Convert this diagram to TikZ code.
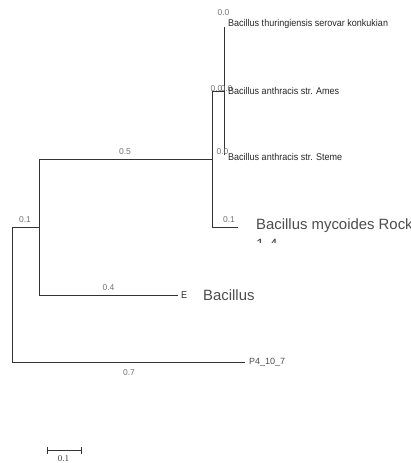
\documentclass[tikz,border=0pt]{standalone}
\usepackage{fontspec}
\setmainfont{Liberation Sans}
\newfontfamily\serifnum{Liberation Serif}
\begin{document}
\begin{tikzpicture}[x=1pt,y=-1pt,
  edge/.style={draw=black!80, line width=0.9pt},
  blab/.style={anchor=base, inner sep=0pt, text=black!55, font=\fontsize{8.5}{8.5}\selectfont},
  leaf/.style={anchor=base west, inner sep=0pt, text=black!85, xscale=0.92, transform shape, font=\fontsize{9.8}{9.8}\selectfont},
  bigleaf/.style={anchor=base west, inner sep=0pt, text=black!70, font=\fontsize{14.9}{14.9}\selectfont},
  p4leaf/.style={anchor=base west, inner sep=0pt, text=black!70, font=\fontsize{9}{9}\selectfont}]
\useasboundingbox (0,0) rectangle (410,463);
\clip (0,0) rectangle (410,463);
% tree junctions and leaves
\coordinate (R) at (12,294.5);
\coordinate (N1) at (39,227);
\coordinate (N2) at (212,159);
\coordinate (N3) at (224,91);
\coordinate (TH) at (224,27);
\coordinate (AM) at (224,91);
\coordinate (ST) at (224,155);
\coordinate (MY) at (238,227);
\coordinate (B1) at (178,295);
\coordinate (P4) at (245,362);
% edges
\draw[edge] (R) |- (N1);
\draw[edge] (R) |- (P4);
\draw[edge] (N1) |- (N2);
\draw[edge] (N1) |- (B1);
\draw[edge] (N2) |- (N3);
\draw[edge] (N2) |- (MY);
\draw[edge] (N3) |- (TH);
\draw[edge] (N3) |- (ST);
% branch labels
\node[blab] (l1) at (25,222) {0.1};
\node[blab] (l2) at (125,154.5) {0.5};
\node[blab] (l3) at (108.5,290) {0.4};
\node[blab] (l4) at (129,375) {0.7};
\node[blab] (l5) at (229,222) {0.1};
\node[blab] (l6) at (223.5,15.3) {0.0};
\node[blab] (l7) at (216.5,91) {0.0};
\node[blab] (l8) at (226.5,91) {0.0};
\node[blab] (l9) at (222.5,154) {0.0};
% leaf labels
\node[leaf] (tTH) at (228,26) {Bacillus thuringiensis serovar konkukian};
\node[leaf] (tAM) at (228,94) {Bacillus anthracis str. Ames};
\node[leaf] (tST) at (228,160.5) {Bacillus anthracis str. Steme};
\node[bigleaf] (tMY) at (256,229) {Bacillus mycoides Rock};
\begin{scope}
\clip (250,230) rectangle (300,242);
\node[bigleaf] (tMY2) at (256,249) {1-4};
\end{scope}
\node[leaf] (tE) at (181,298) {E};
\node[bigleaf] (tB1) at (203,300) {Bacillus};
\node[p4leaf] (tP4) at (249,364) {P4\_10\_7};
% scale bar
\coordinate (S1) at (47,450);
\coordinate (S2) at (81,450);
\draw[edge, line width=0.8pt] (S1) -- (S2);
\draw[edge, line width=0.8pt] ([yshift=-3.5pt]S1) -- ([yshift=3.5pt]S1);
\draw[edge, line width=0.8pt] ([yshift=-3.5pt]S2) -- ([yshift=3.5pt]S2);
\node[anchor=base, inner sep=0pt, text=black!75, font=\serifnum\fontsize{9}{9}\selectfont] (sl) at (63.5,461.5) {0.1};
\end{tikzpicture}
\end{document}
